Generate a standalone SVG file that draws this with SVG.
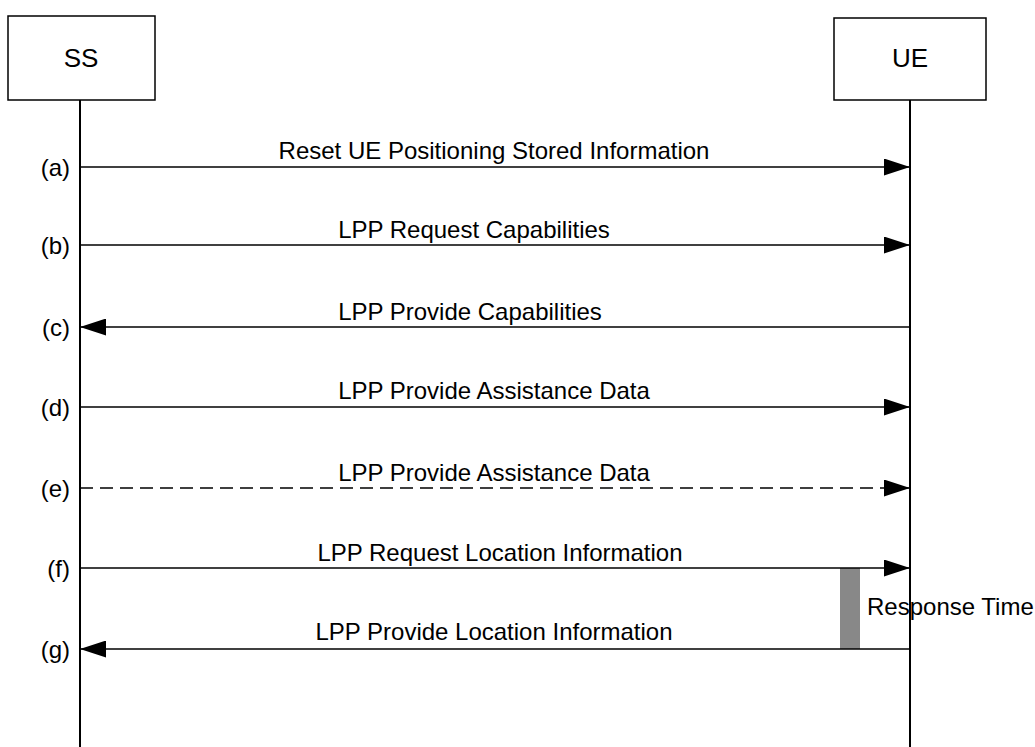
<svg xmlns="http://www.w3.org/2000/svg" width="1035" height="747" viewBox="0 0 1035 747">
<defs>
<style>
text{font-family:"Liberation Sans",Arial,sans-serif;fill:#000}
.box{fill:#fff;stroke:#000;stroke-width:1.5}
.life{stroke:#000;stroke-width:2;fill:none}
.msg{stroke:#000;stroke-width:1.5;fill:none}
.dash{stroke-dasharray:13 7}
.lbl{font-size:24px;text-anchor:middle}
.step{font-size:24px;text-anchor:end}
.name{font-size:26px;text-anchor:middle}
</style>
<marker id="ah" viewBox="0 0 26 17" refX="26" refY="8.5" markerWidth="26" markerHeight="17" markerUnits="userSpaceOnUse" orient="auto">
<path d="M0,0 L26,8.5 L0,17 Z" fill="#000"/>
</marker>
</defs>
<rect width="1035" height="747" fill="#fff"/>
<g id="SS">
<rect class="box" x="8" y="16" width="147" height="84"/>
<text class="name" x="81" y="67">SS</text>
<line class="life" x1="80" y1="100" x2="80" y2="747"/>
</g>
<g id="UE">
<rect class="box" x="834" y="18" width="152" height="82"/>
<text class="name" x="910" y="67">UE</text>
<line class="life" x1="910" y1="100" x2="910" y2="747"/>
</g>
<g id="response-time">
<rect x="840" y="568" width="20" height="81" fill="#888"/>
<text x="867" y="615" style="font-size:24px">Response Time</text>
</g>
<g id="connectors">
<line class="msg" x1="80" y1="167" x2="910" y2="167" marker-end="url(#ah)"/>
<line class="msg" x1="80" y1="245" x2="910" y2="245" marker-end="url(#ah)"/>
<line class="msg" x1="910" y1="327" x2="80" y2="327" marker-end="url(#ah)"/>
<line class="msg" x1="80" y1="407" x2="910" y2="407" marker-end="url(#ah)"/>
<line class="msg dash" x1="80" y1="488" x2="910" y2="488" marker-end="url(#ah)"/>
<line class="msg" x1="80" y1="568" x2="910" y2="568" marker-end="url(#ah)"/>
<line class="msg" x1="910" y1="649" x2="80" y2="649" marker-end="url(#ah)"/>
</g>
<g id="labels">
<text class="lbl" x="494" y="159">Reset UE Positioning Stored Information</text>
<text class="lbl" x="474" y="238">LPP Request Capabilities</text>
<text class="lbl" x="470" y="320">LPP Provide Capabilities</text>
<text class="lbl" x="494" y="399">LPP Provide Assistance Data</text>
<text class="lbl" x="494" y="481">LPP Provide Assistance Data</text>
<text class="lbl" x="500" y="561">LPP Request Location Information</text>
<text class="lbl" x="494" y="640">LPP Provide Location Information</text>
<text class="step" x="70" y="176">(a)</text>
<text class="step" x="70" y="254">(b)</text>
<text class="step" x="70" y="336">(c)</text>
<text class="step" x="70" y="416">(d)</text>
<text class="step" x="70" y="497">(e)</text>
<text class="step" x="70" y="577">(f)</text>
<text class="step" x="70" y="658">(g)</text>
</g>
</svg>
